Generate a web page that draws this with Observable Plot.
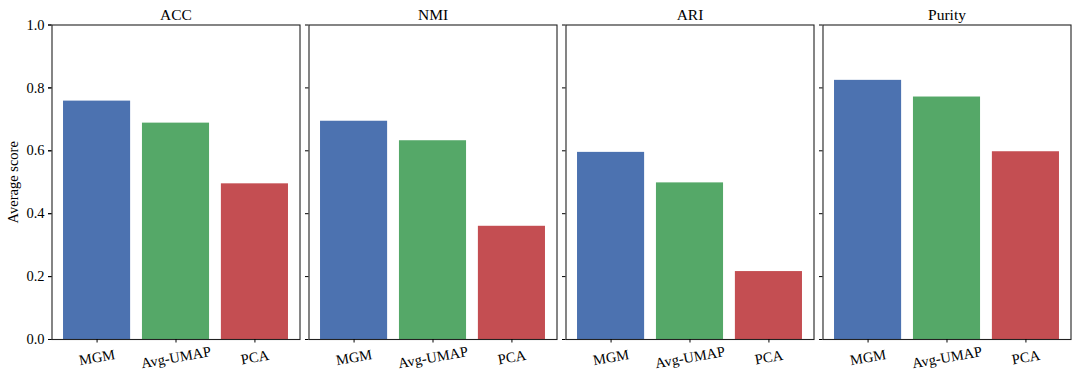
<!DOCTYPE html>
<html><head><meta charset="utf-8">
<script src="https://cdn.jsdelivr.net/npm/d3@7"></script>
<script src="https://cdn.jsdelivr.net/npm/@observablehq/plot@0.6"></script>
<style>body{margin:0;background:#fff} svg{display:block}</style>
</head><body><div id="chart"></div>
<script>
const metrics = ["ACC", "NMI", "ARI", "Purity"];
const methods = ["MGM", "Avg-UMAP", "PCA"];
const colors = ["#4c72b0", "#55a868", "#c44e52"];
const mgm = [0.758, 0.694, 0.595, 0.824];
const avgUmap = [0.688, 0.632, 0.498, 0.771];
const pca = [0.495, 0.360, 0.216, 0.597];
const yTicks = [0, 0.2, 0.4, 0.6, 0.8, 1.0];

const series = [mgm, avgUmap, pca];
const data = metrics.flatMap((m, i) => methods.map((k, j) => ({metric: m, method: k, value: series[j][i]})));

const plot = Plot.plot({
  width: 1079, height: 381,
  marginTop: 24.5, marginBottom: 42, marginLeft: 51.5, marginRight: 8.5,
  style: {fontFamily: "'Liberation Serif', 'DejaVu Serif', serif", fontSize: "14.5px", color: "#000", background: "#fff"},
  fx: {domain: metrics, paddingInner: 0.035, paddingOuter: 0, round: false, label: null},
  x: {domain: methods, paddingInner: 0.15, paddingOuter: 0.146, round: false, label: null},
  y: {domain: [0, 1], label: null},
  color: {domain: methods, range: colors},
  marks: [
    Plot.barY(data, {fx: "metric", x: "method", y: "value", fill: "method"}),
    Plot.frame({stroke: "#222", strokeWidth: 1.1}),
    Plot.axisFx({anchor: "top", tickSize: 0, tickPadding: 5, label: null, fontSize: 15.5}),
    Plot.axisY({ticks: yTicks, tickSize: 3.5, tickFormat: () => "", facetAnchor: null, label: null}),
    Plot.axisY({ticks: yTicks, tickSize: 3.5, tickPadding: 4, tickFormat: d3.format(".1f"), label: "Average score", labelAnchor: "center", labelOffset: 44.5, labelArrow: "none", fontSize: 14.5}),
    Plot.axisX({tickSize: 3.5, tickRotate: -10, textAnchor: "middle", lineAnchor: "middle", tickPadding: 14.5, label: null, fontSize: 14.5})
  ]
});
document.getElementById("chart").appendChild(plot);
</script>
</body></html>
